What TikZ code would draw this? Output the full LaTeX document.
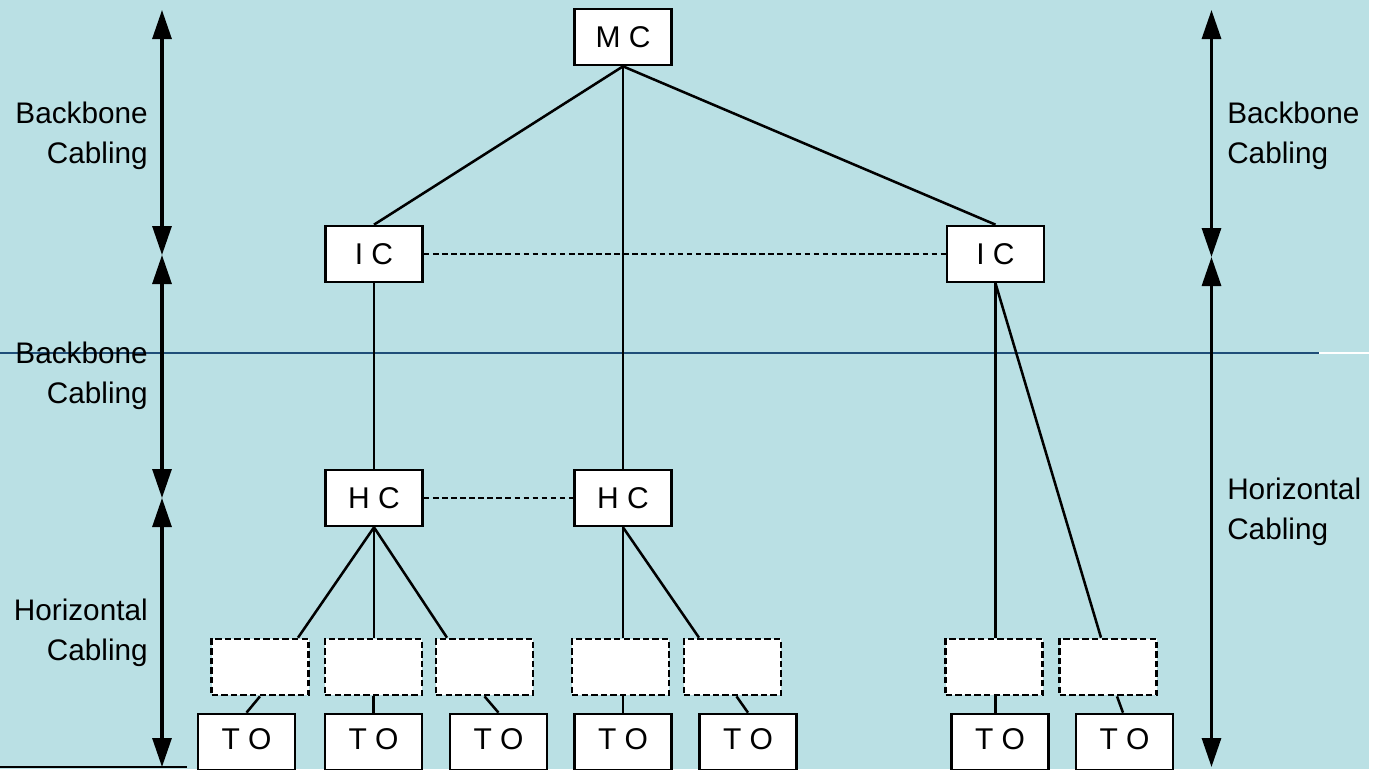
\documentclass[tikz,border=0pt]{standalone}
\usepackage{fontspec}
\setmainfont{Liberation Sans}
\usetikzlibrary{arrows.meta,calc}
\definecolor{bgc}{RGB}{186,224,228}
\definecolor{hlinec}{RGB}{31,78,121}
\tikzset{
  lbl/.style={font=\fontsize{22.3}{30}\selectfont, inner sep=0pt},
  solidbox/.style={draw=black, fill=white, line width=2pt, minimum width=72.75pt, minimum height=42pt, inner sep=0pt, font=\fontsize{22.5}{25}\selectfont},
  tobox/.style={solidbox, text depth=5pt},
  dashbox/.style={draw=black, fill=white, line width=2pt, dash pattern=on 4.8pt off 2.4pt, minimum width=72.75pt, minimum height=42pt, inner sep=0pt},
  conn/.style={line width=1.9pt, black},
  dconn/.style={conn, dash pattern=on 4.2pt off 2.6pt},
  dblarrow/.style={line width=2.3pt, {Triangle[length=21.75pt,width=14.25pt]}-{Triangle[length=21.75pt,width=14.25pt]}}
}
\begin{document}
\begin{tikzpicture}[x=0.75pt,y=-0.75pt]
\useasboundingbox (0,0) rectangle (1382,769);
\fill[white] (0,0) rectangle (1382,769);
\fill[bgc] (0,0) rectangle (1369,769);
% thin horizontal line
\draw[hlinec, line width=0.8pt] (0,353) -- (1319,353);
\draw[white, line width=0.8pt] (1319,353) -- (1369,353);
% bottom-left line
\draw[black, line width=1.8pt] (0,767) -- (187,767);

% side arrows
\coordinate (L0) at (162,10);
\coordinate (L1) at (162,255);
\coordinate (L2) at (162,498);
\coordinate (L3) at (162,767);
\coordinate (R0) at (1211.5,10);
\coordinate (R1) at (1211.5,257);
\coordinate (R2) at (1211.5,767);
\draw[dblarrow] (L0) -- (L1);
\draw[dblarrow] (L1) -- (L2);
\draw[dblarrow] (L2) -- (L3);
\draw[dblarrow] (R0) -- (R1);
\draw[dblarrow] (R1) -- (R2);

% side labels
\node[lbl, align=right, anchor=east] (lb1) at (148,136) {Backbone\\Cabling};
\node[lbl, align=right, anchor=east] (lb2) at (148,376) {Backbone\\Cabling};
\node[lbl, align=right, anchor=east] (lh1) at (148,633) {Horizontal\\Cabling};
\node[lbl, align=left, anchor=west] (rb1) at (1227,136) {Backbone\\Cabling};
\node[lbl, align=left, anchor=west] (rh1) at (1227,512) {Horizontal\\Cabling};

% tree nodes
\node[solidbox] (MC) at (623,37) {M C};
\node[solidbox] (ICL) at (374,254) {I C};
\node[solidbox] (ICR) at (995.5,254) {I C};
\node[solidbox] (HCL) at (374,498) {H C};
\node[solidbox] (HCM) at (623,498) {H C};

\node[dashbox] (d1) at (260,667) {};
\node[dashbox] (d2) at (373.5,667) {};
\node[dashbox] (d3) at (484.5,667) {};
\node[dashbox] (d4) at (620.5,667) {};
\node[dashbox] (d5) at (732.5,667) {};
\node[dashbox] (d6) at (994,667) {};
\node[dashbox] (d7) at (1108,667) {};

\node[tobox] (t1) at (246.5,742) {T O};
\node[tobox] (t2) at (373.5,742) {T O};
\node[tobox] (t3) at (498.5,742) {T O};
\node[tobox] (t4) at (623,742) {T O};
\node[tobox] (t5) at (748,742) {T O};
\node[tobox] (t6) at (1000,742) {T O};
\node[tobox] (t7) at (1124.5,742) {T O};

% connectors
\draw[conn] (MC.south) -- (ICL.north);
\draw[conn] (MC.south) -- (ICR.north);
\draw[conn] (MC.south) -- (HCM.north);
\draw[conn] (ICL.south) -- (HCL.north);
\draw[dconn] (ICL.east) -- (ICR.west);
\draw[dconn] (HCL.east) -- (HCM.west);

\draw[conn] (HCL.south) -- ($(d1.north)+(38,0)$);
\draw[conn] (HCL.south) -- (HCL.south |- d2.north);
\draw[conn] (HCL.south) -- ($(d3.north)+(-37.5,0)$);
\draw[conn] (HCM.south) -- (HCM.south |- d4.north);
\draw[conn] (HCM.south) -- ($(d5.north)+(-33.5,0)$);
\draw[conn] (ICR.south) -- (ICR.south |- d6.north);
\draw[conn] (ICR.south) -- ($(d7.north)+(-7,0)$);

\draw[conn] (d1.south) -- (t1.north);
\draw[conn] (d2.south) -- (t2.north);
\draw[conn] (d3.south) -- (t3.north);
\draw[conn] (HCM.south |- d4.south) -- (HCM.south |- t4.north);
\draw[conn] ($(d5.south)+(4,0)$) -- (t5.north);
\draw[conn] (ICR.south |- d6.south) -- (ICR.south |- t6.north);
\draw[conn] ($(d7.south)+(9,0)$) -- ($(t7.north)+(-1.5,0)$);
\end{tikzpicture}
\end{document}
